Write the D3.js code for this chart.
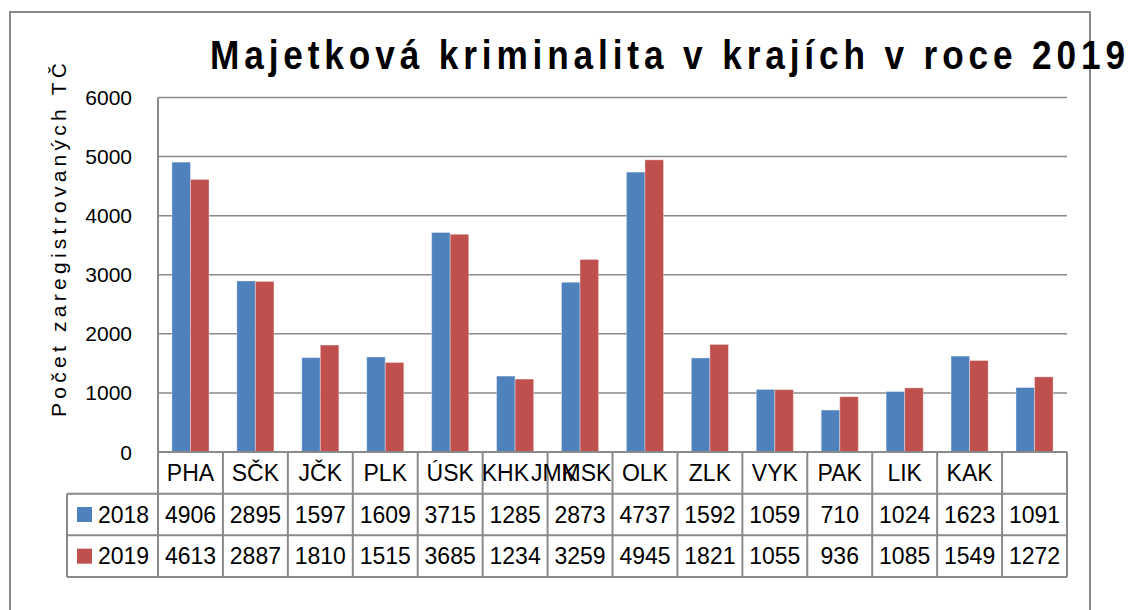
<!DOCTYPE html>
<html>
<head>
<meta charset="utf-8">
<script src="https://cdn.jsdelivr.net/npm/d3@7"></script>
<style>
  body { margin: 0; background: #fff; }
  text { font-family: "Liberation Sans", Arial, sans-serif; fill: #000; }
</style>
</head>
<body>
<div id="chart"></div>
<script>
/**
 * CONSTANTS AND GLOBALS
 * */
const width = 1132,
  height = 610,
  plot = { left: 158, right: 1067, top: 97.5, bottom: 452 },
  tableBottom = 577,
  legendLeft = 67;

/**
 * DATA
 * */
const regions = ["PHA", "SČK", "JČK", "PLK", "ÚSK", "KHK", "JMK", "MSK", "OLK", "ZLK", "VYK", "PAK", "LIK", "KAK"];
// column where each label ends up in the picture (KHK/JMK/MSK are squeezed together, last column is empty)
const labelColumn = [0, 1, 2, 3, 4, 4.85, 5.6, 6.1, 7, 8, 9, 10, 11, 12];
const years = ["2018", "2019"];
const values2018 = [4906, 2895, 1597, 1609, 3715, 1285, 2873, 4737, 1592, 1059, 710, 1024, 1623, 1091];
const values2019 = [4613, 2887, 1810, 1515, 3685, 1234, 3259, 4945, 1821, 1055, 936, 1085, 1549, 1272];
const yTicks = [0, 1000, 2000, 3000, 4000, 5000, 6000];
const colors = { "2018": "#4F81BD", "2019": "#C0504D" };
const series = { "2018": values2018, "2019": values2019 };

const title = "Majetková kriminalita v krajích v roce 2019";
const yTitle = "Počet  zaregistrovaných TČ";

const gridColor = "#8a8a8a";

/**
 * SCALES
 * */
const columns = d3.range(values2018.length);

const x = d3.scaleBand()
  .domain(columns)
  .range([plot.left, plot.right]);

const x1 = d3.scaleBand()
  .domain(years)
  .range([0, x.bandwidth()])
  .paddingOuter(0.75); // excel gap width 150%

const y = d3.scaleLinear()
  .domain([0, 6000])
  .range([plot.bottom, plot.top]);

const row = d3.scaleBand()
  .domain(["labels"].concat(years))
  .range([plot.bottom, tableBottom]);

/**
 * SVG
 * */
const svg = d3.select("#chart")
  .append("svg")
  .attr("width", width)
  .attr("height", height);

// outer chart frame
svg.append("rect")
  .attr("x", 10)
  .attr("y", 12)
  .attr("width", 1080)
  .attr("height", 700)
  .attr("fill", "none")
  .attr("stroke", gridColor)
  .attr("stroke-width", 2);

// gridlines
svg.selectAll("line.grid")
  .data(yTicks.filter(d => d > 0))
  .join("line")
  .attr("class", "grid")
  .attr("x1", plot.left)
  .attr("x2", plot.right)
  .attr("y1", d => y(d))
  .attr("y2", d => y(d))
  .attr("stroke", gridColor)
  .attr("stroke-width", 1.5);

// y tick labels
svg.selectAll("text.ytick")
  .data(yTicks)
  .join("text")
  .attr("class", "ytick")
  .attr("x", 132)
  .attr("y", d => y(d))
  .attr("dy", "0.36em")
  .attr("text-anchor", "end")
  .attr("font-size", 21)
  .text(d => d);

// bars
const groups = svg.selectAll("g.group")
  .data(columns)
  .join("g")
  .attr("class", "group")
  .attr("transform", i => `translate(${x(i)},0)`);

groups.selectAll("rect")
  .data(i => years.map(yr => ({ year: yr, value: series[yr][i] })))
  .join("rect")
  .attr("x", d => x1(d.year))
  .attr("width", x1.bandwidth())
  .attr("y", d => y(d.value))
  .attr("height", d => y(0) - y(d.value))
  .attr("fill", d => colors[d.year])
  .attr("stroke", "rgba(255,255,255,0.35)")
  .attr("stroke-width", 1);

/*** DATA TABLE ***/
const table = svg.append("g").attr("stroke", gridColor).attr("stroke-width", 2);

// horizontal lines
table.append("line")
  .attr("x1", plot.left).attr("x2", plot.right)
  .attr("y1", row("labels")).attr("y2", row("labels"));

table.selectAll("line.hrow")
  .data(years)
  .join("line")
  .attr("class", "hrow")
  .attr("x1", legendLeft).attr("x2", plot.right)
  .attr("y1", d => row(d)).attr("y2", d => row(d));

table.append("line")
  .attr("x1", legendLeft).attr("x2", plot.right)
  .attr("y1", tableBottom).attr("y2", tableBottom);

// vertical lines
table.append("line")
  .attr("x1", legendLeft).attr("x2", legendLeft)
  .attr("y1", row("2018")).attr("y2", tableBottom);

table.append("line")
  .attr("x1", plot.left).attr("x2", plot.left)
  .attr("y1", plot.top).attr("y2", tableBottom);

table.selectAll("line.vcol")
  .data(columns)
  .join("line")
  .attr("class", "vcol")
  .attr("x1", i => x(i) + x.bandwidth())
  .attr("x2", i => x(i) + x.bandwidth())
  .attr("y1", plot.bottom).attr("y2", tableBottom);

// category labels
svg.selectAll("text.cat")
  .data(regions)
  .join("text")
  .attr("class", "cat")
  .attr("x", (d, i) => plot.left + (labelColumn[i] + 0.5) * x.step())
  .attr("y", row("labels") + row.bandwidth() / 2)
  .attr("dy", "0.36em")
  .attr("text-anchor", "middle")
  .attr("font-size", 23)
  .text(d => d);

// legend keys in the table
years.forEach(yr => {
  const cy = row(yr) + row.bandwidth() / 2;
  svg.append("rect")
    .attr("x", 77)
    .attr("y", cy - 7.5)
    .attr("width", 15)
    .attr("height", 15)
    .attr("fill", colors[yr]);
  svg.append("text")
    .attr("x", 98)
    .attr("y", cy)
    .attr("dy", "0.36em")
    .attr("font-size", 23)
    .text(yr);

  svg.selectAll(`text.val${yr}`)
    .data(series[yr])
    .join("text")
    .attr("class", `val${yr}`)
    .attr("x", (d, i) => x(i) + x.bandwidth() / 2)
    .attr("y", cy)
    .attr("dy", "0.36em")
    .attr("text-anchor", "middle")
    .attr("font-size", 23)
    .text(d => d);
});

// axis title
svg.append("text")
  .attr("transform", "translate(66,417) rotate(-90)")
  .attr("font-size", 21)
  .attr("textLength", 354)
  .attr("lengthAdjust", "spacing")
  .text(yTitle);

// chart title (narrow bold glyphs, wide spacing)
const titleScale = 0.88;
svg.append("text")
  .attr("transform", `translate(210,69) scale(${titleScale},1)`)
  .attr("font-size", 40)
  .attr("font-weight", "bold")
  .attr("textLength", 915 / titleScale)
  .attr("lengthAdjust", "spacing")
  .text(title);
</script>
</body>
</html>
